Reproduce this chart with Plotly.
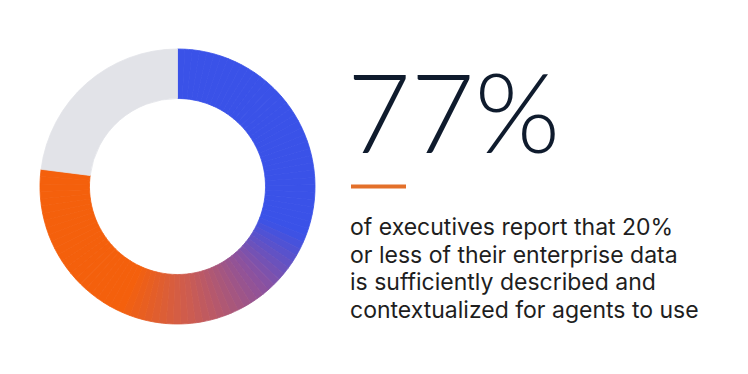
import plotly.graph_objects as go

# ---- data ----
share_labels = ["Report 20% or less", "Other"]
share_values = [77, 23]
headline = "77%"
body_lines = [
    "of executives report that 20%",
    "or less of their enterprise data",
    "is sufficiently described and",
    "contextualized for agents to use",
]

# ---- style ----
W, H = 748, 374
BLUE = (58, 82, 232)
PURPLE = (138, 82, 160)
RED = (205, 92, 80)
ORANGE = (244, 96, 12)
GREY = "#E2E3E8"


def mix(a, b, t):
    return tuple(round(a[i] + (b[i] - a[i]) * t) for i in range(3))


def grad_color(frac):
    # conic gradient along the highlighted arc (frac 0..1 of that arc)
    stops = [(0.0, BLUE), (0.40, BLUE), (0.50, PURPLE), (0.63, RED), (0.74, ORANGE), (1.0, ORANGE)]
    for (f0, c0), (f1, c1) in zip(stops[:-1], stops[1:]):
        if f0 <= frac <= f1:
            t = 0 if f1 == f0 else (frac - f0) / (f1 - f0)
            return "rgb(%d,%d,%d)" % mix(c0, c1, t)
    return "rgb(%d,%d,%d)" % ORANGE


N = 90
seg_vals, seg_cols = [], []
for i in range(N):
    seg_vals.append(share_values[0] / N)
    seg_cols.append(grad_color((i + 0.5) / N))
seg_vals.append(share_values[1])
seg_cols.append(GREY)

fig = go.Figure(
    go.Pie(
        values=seg_vals,
        sort=False,
        direction="clockwise",
        rotation=0,
        hole=0.64,
        marker=dict(colors=seg_cols, line=dict(color=seg_cols, width=0.8)),
        textinfo="none",
        hoverinfo="skip",
        showlegend=False,
        domain=dict(x=[40 / W, 315 / W], y=[1 - 324 / H, 1 - 49 / H]),
    )
)

fig.add_annotation(
    x=345 / W, y=1 - 110 / H, xref="paper", yref="paper",
    xanchor="left", yanchor="middle", showarrow=False,
    text=headline,
    font=dict(family="Lato", size=110, color="#0F1B2D", weight=300),
)

fig.add_shape(
    type="line", xref="paper", yref="paper",
    x0=351 / W, x1=406 / W, y0=1 - 186.5 / H, y1=1 - 186.5 / H,
    line=dict(color="#E3702A", width=4),
)

baselines = [234, 262, 289, 317]
for line, b in zip(body_lines, baselines):
    fig.add_annotation(
        x=348 / W, y=1 - (b - 7) / H, xref="paper", yref="paper",
        xanchor="left", yanchor="middle", align="left", showarrow=False,
        text=line,
        font=dict(family="Inter", size=23, color="#1E1E1E"),
    )

fig.update_layout(
    width=W, height=H,
    margin=dict(l=0, r=0, t=0, b=0),
    paper_bgcolor="white", plot_bgcolor="white",
)

fig.write_html("out.html")
